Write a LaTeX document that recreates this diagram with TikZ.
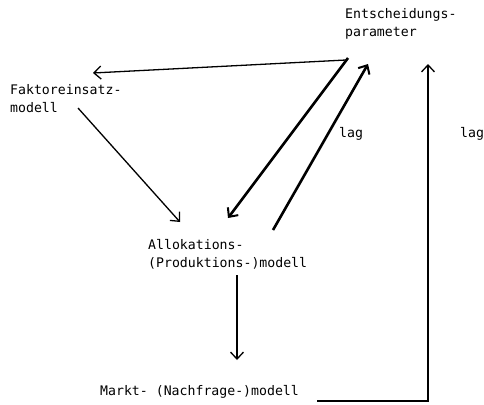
\documentclass[tikz,border=0pt]{standalone}
\usepackage{fontspec}
\setmonofont{DejaVu Sans Mono}
\usetikzlibrary{arrows.meta}
\begin{document}
\begin{tikzpicture}[x=1pt,y=-1pt,
  lbl/.style={font=\ttfamily\fontsize{13.2}{18}\selectfont,inner sep=0pt,anchor=base west,align=left},
  thin arr/.style={line width=1.3pt,-{Straight Barb[length=7pt,width=13pt,line width=1.3pt]}},
  thick arr/.style={line width=2.6pt,-{Straight Barb[length=7pt,width=13pt,line width=2pt]}}]
\useasboundingbox (0,0) rectangle (484,404);
\node[lbl] (ent) at (345,37) {Entscheidungs-\\parameter};
\node[lbl] (fak) at (10,112) {Faktoreinsatz-\\modell};
\node[lbl] (all) at (148,267) {Allokations-\\(Produktions-)modell};
\node[lbl] (mar) at (100,395) {Markt- (Nachfrage-)modell};
\node[lbl] (lag1) at (339,137) {lag};
\node[lbl] (lag2) at (460,137) {lag};
% connector endpoints
\coordinate (e1) at (346,60);
\coordinate (f1) at (93,73);
\coordinate (f2) at (78,108);
\coordinate (a1) at (180,222);
\coordinate (e2) at (348,58);
\coordinate (a2) at (228,218);
\coordinate (a3) at (273,230);
\coordinate (e3) at (368,64);
\coordinate (a4) at (237,275);
\coordinate (m1) at (237,360);
\coordinate (m2) at (317,401);
\coordinate (c1) at (428,401);
\coordinate (e4) at (428,64);
\draw[thin arr] (e1) -- (f1);
\draw[thin arr] (f2) -- (a1);
\draw[thick arr] (e2) -- (a2);
\draw[thick arr] (a3) -- (e3);
\draw[thin arr] (a4) -- (m1);
\draw[thin arr] (m2) -- (c1) -- (e4);
\end{tikzpicture}
\end{document}
